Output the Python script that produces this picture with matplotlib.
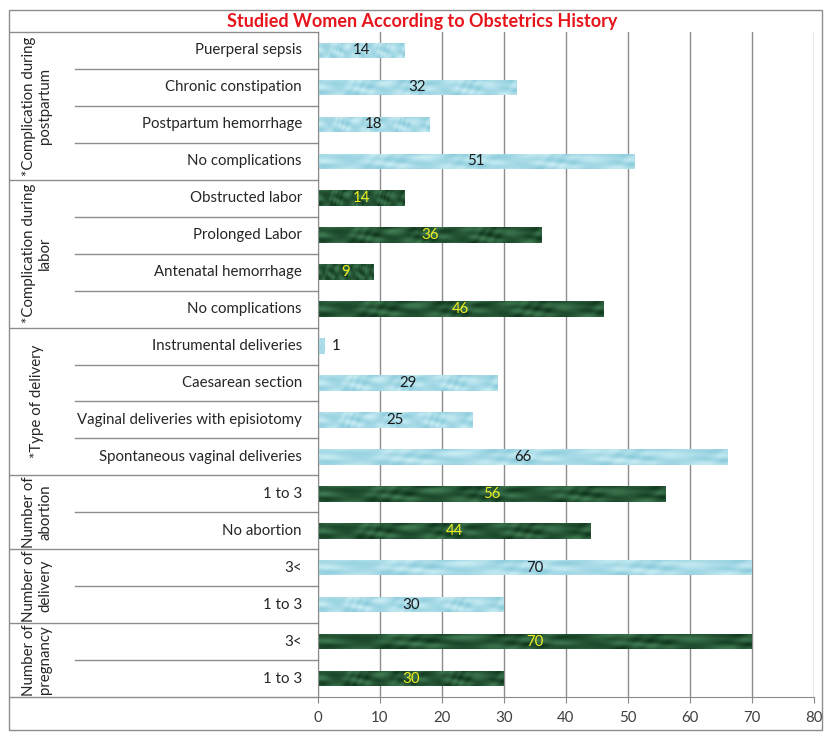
import numpy as np
import matplotlib
matplotlib.use("Agg")
import matplotlib.pyplot as plt
from matplotlib.patches import Rectangle
from matplotlib.transforms import blended_transform_factory

plt.rcParams['font.family'] = ['Lato', 'DejaVu Sans']

# ---- data (top to bottom) ----
groups = ["*Complication during\npostpartum",
          "*Complication during\nlabor",
          "*Type of delivery",
          "Number of\nabortion",
          "Number of\ndelivery",
          "Number of\npregnancy"]
group_sizes = [4, 4, 4, 2, 2, 2]
group_style = ["light", "dark", "light", "dark", "light", "dark"]

categories = ["Puerperal sepsis", "Chronic constipation", "Postpartum hemorrhage", "No complications",
              "Obstructed labor", "Prolonged Labor", "Antenatal hemorrhage", "No complications",
              "Instrumental deliveries", "Caesarean section", "Vaginal deliveries with episiotomy",
              "Spontaneous vaginal deliveries",
              "1 to 3", "No abortion",
              "3<", "1 to 3",
              "3<", "1 to 3"]
values = [14, 32, 18, 51,
          14, 36, 9, 46,
          1, 29, 25, 66,
          56, 44,
          70, 30,
          70, 30]
x_ticks = [0, 10, 20, 30, 40, 50, 60, 70, 80]

W, H = 828, 734
FS = 10.8
fig = plt.figure(figsize=(W / 100, H / 100), dpi=100)
ax = fig.add_axes([318 / W, 1 - 697 / H, (814 - 318) / W, (697 - 32) / H])

n = len(categories)


def texture(kind, shape=(40, 400)):
    yy, xx = np.mgrid[0:shape[0], 0:shape[1]]
    xx = xx / shape[1]
    yy = yy / shape[0]
    f = (np.sin(xx * 37 + np.sin(yy * 5) * 2) * 0.5
         + np.sin(xx * 91 + yy * 7 + np.cos(xx * 23) * 3) * 0.3
         + np.sin(xx * 13 - yy * 11) * 0.4)
    f = (f - f.min()) / (f.max() - f.min())
    if kind == "dark":
        c0 = np.array([0x10, 0x36, 0x1d]) / 255
        c1 = np.array([0x3f, 0x7a, 0x52]) / 255
    else:
        c0 = np.array([0x8c, 0xcc, 0xdc]) / 255
        c1 = np.array([0xc8, 0xec, 0xf3]) / 255
    return c0 + (c1 - c0) * f[..., None]


styles = []
for g, s in zip(group_sizes, group_style):
    styles += [s] * g

bar_h = 0.42
for i, (v, st) in enumerate(zip(values, styles)):
    yc = i + 0.5
    rect = Rectangle((0, yc - bar_h / 2), v, bar_h, facecolor="none", edgecolor="none")
    ax.add_patch(rect)
    img = ax.imshow(texture(st), extent=(0, v, yc + bar_h / 2, yc - bar_h / 2),
                    aspect="auto", interpolation="bilinear", zorder=2)
    img.set_clip_path(rect)
    col = "#f0f020" if st == "dark" else "#1a1a1a"
    if v < 3:
        ax.text(v + 1.3, yc, str(v), ha="left", va="center", fontsize=FS, color=col, zorder=3)
    else:
        ax.text(v / 2, yc, str(v), ha="center", va="center", fontsize=FS, color=col, zorder=3)

ax.set_ylim(n, 0)
ax.set_xlim(0, 80)

# grid and axes
ax.set_xticks(x_ticks)
ax.set_xticklabels([str(t) for t in x_ticks], fontsize=FS, color="#404040")
ax.tick_params(axis="x", length=4, color="#888888", pad=6)
ax.set_yticks([])
ax.grid(axis="x", color="#8c8c8c", linewidth=1)
ax.set_axisbelow(True)
for s in ["top", "right"]:
    ax.spines[s].set_visible(False)
ax.spines["left"].set_color("#8c8c8c")
ax.spines["bottom"].set_color("#8c8c8c")

# category and group labels in the left margin
tr = blended_transform_factory(fig.transFigure, ax.transData)
for i, c in enumerate(categories):
    ax.text(302 / W, i + 0.5, c, transform=tr, ha="right", va="center", fontsize=FS, color="#262626")

bounds = np.cumsum([0] + group_sizes)
for b in range(n + 1):
    x0 = 10 / W if b in bounds else 75 / W
    ax.plot([x0, 318 / W], [b, b], transform=tr, color="#8c8c8c", linewidth=1, clip_on=False)

for g, (start, size) in enumerate(zip(bounds[:-1], group_sizes)):
    ax.text(37 / W, start + size / 2, groups[g], transform=tr, rotation=90,
            ha="center", va="center", fontsize=FS, color="#262626", linespacing=1.2)

# title and outer frame
fig.text(422 / W, 1 - 22 / H, "Studied Women According to Obstetrics History",
         ha="center", va="center", fontsize=13, fontweight="bold", color="#e8141c")
fig.patches.append(Rectangle((9 / W, 1 - 730 / H), (822 - 9) / W, (730 - 10) / H,
                             transform=fig.transFigure, fill=False, edgecolor="#8c8c8c",
                             linewidth=1))

fig.savefig("out.png", dpi=100)
